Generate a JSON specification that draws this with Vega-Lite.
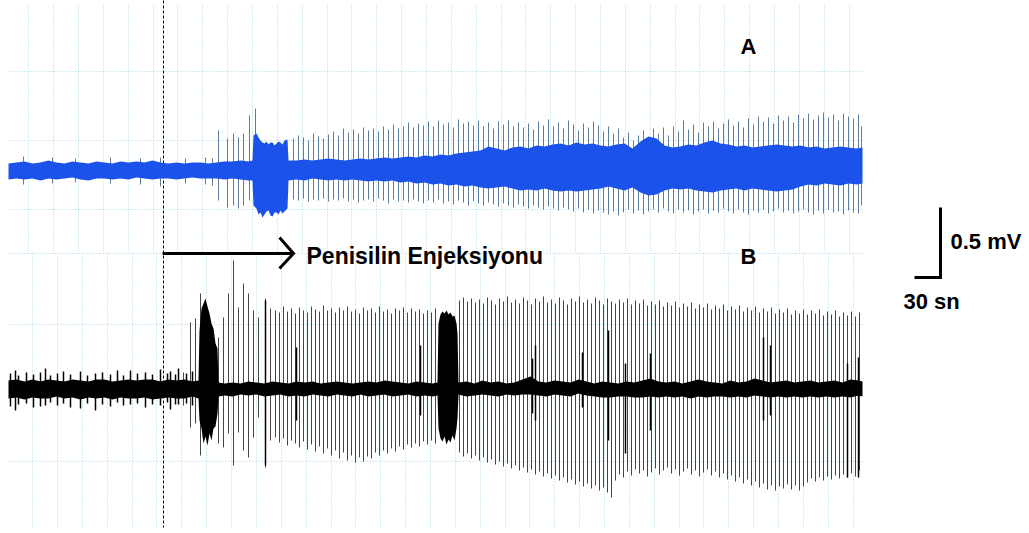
{
"$schema": "https://vega.github.io/schema/vega-lite/v6.json",
"width": 1029, "height": 533,
"autosize": {"type": "fit", "contains": "padding"},
"padding": 0,
"background": "white",
"view": {"stroke": null},
"config": {"text": {"font": "Liberation Sans"}},
"datasets": {
"grid": [
{"t":28,"t2":28,"v":274,"v2":25},{"t":53,"t2":53,"v":274,"v2":25},{"t":78,"t2":78,"v":274,"v2":25},{"t":103,"t2":103,"v":274,"v2":25},{"t":128,"t2":128,"v":274,"v2":25},{"t":153,"t2":153,"v":274,"v2":25},{"t":177,"t2":177,"v":274,"v2":25},{"t":202,"t2":202,"v":274,"v2":25},{"t":227,"t2":227,"v":274,"v2":25},{"t":252,"t2":252,"v":274,"v2":25},{"t":277,"t2":277,"v":274,"v2":25},{"t":302,"t2":302,"v":274,"v2":25},{"t":327,"t2":327,"v":274,"v2":25},{"t":351,"t2":351,"v":274,"v2":25},{"t":376,"t2":376,"v":274,"v2":25},{"t":401,"t2":401,"v":274,"v2":25},{"t":426,"t2":426,"v":274,"v2":25},{"t":451,"t2":451,"v":274,"v2":25},{"t":476,"t2":476,"v":274,"v2":25},{"t":501,"t2":501,"v":274,"v2":25},{"t":525,"t2":525,"v":274,"v2":25},{"t":550,"t2":550,"v":274,"v2":25},{"t":575,"t2":575,"v":274,"v2":25},{"t":600,"t2":600,"v":274,"v2":25},{"t":625,"t2":625,"v":274,"v2":25},{"t":650,"t2":650,"v":274,"v2":25},{"t":675,"t2":675,"v":274,"v2":25},{"t":699,"t2":699,"v":274,"v2":25},{"t":724,"t2":724,"v":274,"v2":25},{"t":749,"t2":749,"v":274,"v2":25},{"t":774,"t2":774,"v":274,"v2":25},{"t":799,"t2":799,"v":274,"v2":25},{"t":824,"t2":824,"v":274,"v2":25},{"t":849,"t2":849,"v":274,"v2":25},
{"t":32,"t2":32,"v":25,"v2":-249},{"t":57,"t2":57,"v":25,"v2":-249},{"t":82,"t2":82,"v":25,"v2":-249},{"t":107,"t2":107,"v":25,"v2":-249},{"t":132,"t2":132,"v":25,"v2":-249},{"t":156,"t2":156,"v":25,"v2":-249},{"t":181,"t2":181,"v":25,"v2":-249},{"t":206,"t2":206,"v":25,"v2":-249},{"t":231,"t2":231,"v":25,"v2":-249},{"t":256,"t2":256,"v":25,"v2":-249},{"t":281,"t2":281,"v":25,"v2":-249},{"t":306,"t2":306,"v":25,"v2":-249},{"t":331,"t2":331,"v":25,"v2":-249},{"t":355,"t2":355,"v":25,"v2":-249},{"t":380,"t2":380,"v":25,"v2":-249},{"t":405,"t2":405,"v":25,"v2":-249},{"t":430,"t2":430,"v":25,"v2":-249},{"t":455,"t2":455,"v":25,"v2":-249},{"t":480,"t2":480,"v":25,"v2":-249},{"t":505,"t2":505,"v":25,"v2":-249},{"t":529,"t2":529,"v":25,"v2":-249},{"t":554,"t2":554,"v":25,"v2":-249},{"t":579,"t2":579,"v":25,"v2":-249},{"t":604,"t2":604,"v":25,"v2":-249},{"t":629,"t2":629,"v":25,"v2":-249},{"t":654,"t2":654,"v":25,"v2":-249},{"t":679,"t2":679,"v":25,"v2":-249},{"t":703,"t2":703,"v":25,"v2":-249},{"t":728,"t2":728,"v":25,"v2":-249},{"t":753,"t2":753,"v":25,"v2":-249},{"t":778,"t2":778,"v":25,"v2":-249},{"t":803,"t2":803,"v":25,"v2":-249},{"t":828,"t2":828,"v":25,"v2":-249},{"t":853,"t2":853,"v":25,"v2":-249},
{"t":9,"t2":862,"v":207,"v2":207},{"t":9,"t2":862,"v":138,"v2":138},{"t":9,"t2":862,"v":69,"v2":69},{"t":9,"t2":862,"v":25,"v2":25},{"t":9,"t2":862,"v":-46,"v2":-46},{"t":9,"t2":862,"v":-114,"v2":-114},{"t":9,"t2":862,"v":-183,"v2":-183}
],
"aBand": [
{"t":8,"v":115,"v2":99},{"t":16,"v":116,"v2":100},{"t":24,"v":117,"v2":99},{"t":32,"v":115,"v2":100},{"t":40,"v":116,"v2":98},{"t":48,"v":118,"v2":100},{"t":56,"v":116,"v2":99},{"t":64,"v":115,"v2":100},{"t":72,"v":117,"v2":101},{"t":80,"v":116,"v2":99},{"t":88,"v":115,"v2":98},{"t":96,"v":117,"v2":100},{"t":104,"v":116,"v2":100},{"t":112,"v":115,"v2":99},{"t":120,"v":117,"v2":100},{"t":128,"v":116,"v2":99},{"t":136,"v":117,"v2":101},{"t":144,"v":116,"v2":100},{"t":152,"v":118,"v2":99},{"t":160,"v":116,"v2":100},{"t":168,"v":115,"v2":100},{"t":176,"v":116,"v2":99},{"t":184,"v":115,"v2":100},{"t":192,"v":116,"v2":101},{"t":200,"v":116,"v2":100},{"t":208,"v":115,"v2":100},{"t":216,"v":116,"v2":100},{"t":224,"v":117,"v2":99},{"t":232,"v":117,"v2":100},{"t":240,"v":118,"v2":99},{"t":248,"v":117,"v2":98},{"t":252,"v":118,"v2":98},
{"t":253,"v":143,"v2":73},{"t":256,"v":145,"v2":70},{"t":258,"v":141,"v2":64},{"t":260,"v":138,"v2":66},{"t":262,"v":136,"v2":61},{"t":264,"v":135,"v2":64},{"t":266,"v":137,"v2":67},{"t":268,"v":134,"v2":68},{"t":270,"v":136,"v2":63},{"t":272,"v":136,"v2":62},{"t":274,"v":133,"v2":66},{"t":276,"v":135,"v2":66},{"t":278,"v":137,"v2":64},{"t":280,"v":136,"v2":68},{"t":282,"v":134,"v2":65},{"t":284,"v":138,"v2":67},{"t":287,"v":139,"v2":70},
{"t":288,"v":118,"v2":98},{"t":296,"v":118,"v2":99},{"t":304,"v":119,"v2":98},{"t":312,"v":118,"v2":100},{"t":320,"v":119,"v2":99},{"t":328,"v":120,"v2":98},{"t":336,"v":119,"v2":99},{"t":344,"v":118,"v2":98},{"t":352,"v":119,"v2":99},{"t":360,"v":120,"v2":98},{"t":368,"v":119,"v2":97},{"t":376,"v":120,"v2":98},{"t":384,"v":121,"v2":97},{"t":392,"v":120,"v2":98},{"t":400,"v":121,"v2":96},{"t":408,"v":122,"v2":97},{"t":416,"v":121,"v2":95},{"t":424,"v":123,"v2":96},{"t":432,"v":122,"v2":94},{"t":440,"v":124,"v2":95},{"t":448,"v":123,"v2":93},{"t":456,"v":125,"v2":94},{"t":464,"v":126,"v2":92},{"t":472,"v":127,"v2":93},{"t":480,"v":128,"v2":91},{"t":488,"v":132,"v2":90},{"t":496,"v":130,"v2":91},{"t":504,"v":128,"v2":92},{"t":512,"v":131,"v2":90},{"t":520,"v":132,"v2":88},{"t":528,"v":130,"v2":89},{"t":536,"v":133,"v2":88},{"t":544,"v":132,"v2":90},{"t":552,"v":134,"v2":88},{"t":560,"v":135,"v2":87},{"t":568,"v":133,"v2":88},{"t":576,"v":136,"v2":87},{"t":584,"v":134,"v2":88},{"t":592,"v":135,"v2":89},{"t":600,"v":133,"v2":90},{"t":608,"v":132,"v2":92},{"t":616,"v":134,"v2":90},{"t":624,"v":135,"v2":88},{"t":632,"v":130,"v2":91},{"t":640,"v":137,"v2":86},{"t":648,"v":142,"v2":83},{"t":656,"v":140,"v2":84},{"t":664,"v":133,"v2":88},{"t":672,"v":131,"v2":90},{"t":680,"v":132,"v2":89},{"t":688,"v":134,"v2":90},{"t":696,"v":133,"v2":88},{"t":704,"v":136,"v2":87},{"t":712,"v":138,"v2":86},{"t":720,"v":135,"v2":88},{"t":728,"v":134,"v2":89},{"t":736,"v":132,"v2":90},{"t":744,"v":133,"v2":88},{"t":752,"v":131,"v2":90},{"t":760,"v":132,"v2":89},{"t":768,"v":133,"v2":88},{"t":776,"v":134,"v2":87},{"t":784,"v":133,"v2":88},{"t":792,"v":132,"v2":89},{"t":800,"v":133,"v2":92},{"t":808,"v":131,"v2":94},{"t":816,"v":132,"v2":93},{"t":824,"v":130,"v2":95},{"t":832,"v":131,"v2":94},{"t":840,"v":132,"v2":93},{"t":848,"v":131,"v2":95},{"t":856,"v":130,"v2":94},{"t":862,"v":131,"v2":95}
],
"aSpk": [
{"t":23,"v":122,"v2":94},{"t":52,"v":121,"v2":95},{"t":75,"v":120,"v2":96},{"t":110,"v":121,"v2":95},{"t":140,"v":120,"v2":94},{"t":160,"v":121,"v2":92},{"t":185,"v":120,"v2":95},{"t":205,"v":121,"v2":94},{"t":212,"v":120,"v2":93},
{"t":218,"v":148,"v2":78},{"t":227,"v":140,"v2":71},{"t":233,"v":145,"v2":73},{"t":238,"v":141,"v2":70},{"t":243,"v":145,"v2":73},{"t":249,"v":163,"v2":78},{"t":255,"v":170,"v2":73},
{"t":293,"v":140,"v2":79},{"t":298,"v":143,"v2":78},{"t":303,"v":141,"v2":80},{"t":308,"v":138,"v2":77},{"t":313,"v":145,"v2":79},{"t":318,"v":142,"v2":78},{"t":323,"v":140,"v2":80},{"t":328,"v":144,"v2":77},{"t":333,"v":147,"v2":79},{"t":338,"v":143,"v2":78},{"t":343,"v":150,"v2":80},{"t":348,"v":146,"v2":77},{"t":353,"v":149,"v2":79},{"t":358,"v":145,"v2":76},{"t":363,"v":151,"v2":78},{"t":368,"v":148,"v2":79},{"t":373,"v":150,"v2":77},{"t":378,"v":147,"v2":80},{"t":383,"v":152,"v2":78},{"t":388,"v":149,"v2":75},{"t":393,"v":154,"v2":79},{"t":398,"v":150,"v2":77},{"t":403,"v":152,"v2":78},{"t":408,"v":156,"v2":76},{"t":413,"v":151,"v2":79},{"t":418,"v":155,"v2":77},{"t":423,"v":153,"v2":75},{"t":428,"v":157,"v2":78},{"t":433,"v":152,"v2":76},{"t":438,"v":158,"v2":79},{"t":443,"v":154,"v2":75},{"t":448,"v":156,"v2":77},{"t":453,"v":151,"v2":74},{"t":458,"v":159,"v2":78},{"t":463,"v":155,"v2":76},{"t":468,"v":157,"v2":73},{"t":473,"v":153,"v2":77},{"t":478,"v":158,"v2":75},{"t":483,"v":152,"v2":73},{"t":488,"v":156,"v2":76},{"t":493,"v":150,"v2":74},{"t":498,"v":157,"v2":72},{"t":503,"v":154,"v2":75},{"t":508,"v":158,"v2":73},{"t":513,"v":152,"v2":71},{"t":518,"v":156,"v2":74},{"t":523,"v":151,"v2":72},{"t":528,"v":155,"v2":70},{"t":533,"v":149,"v2":73},{"t":538,"v":157,"v2":71},{"t":543,"v":153,"v2":69},{"t":548,"v":159,"v2":72},{"t":553,"v":152,"v2":70},{"t":558,"v":156,"v2":68},{"t":563,"v":150,"v2":71},{"t":568,"v":158,"v2":69},{"t":573,"v":154,"v2":67},{"t":578,"v":148,"v2":70},{"t":583,"v":155,"v2":66},{"t":588,"v":151,"v2":69},{"t":593,"v":157,"v2":65},{"t":598,"v":153,"v2":68},{"t":603,"v":147,"v2":66},{"t":608,"v":152,"v2":64},{"t":613,"v":145,"v2":67},{"t":618,"v":150,"v2":63},
{"t":623,"v":141,"v2":66},{"t":628,"v":146,"v2":69},{"t":633,"v":138,"v2":65},{"t":638,"v":143,"v2":68},{"t":643,"v":148,"v2":64},{"t":648,"v":140,"v2":67},{"t":653,"v":150,"v2":69},{"t":658,"v":145,"v2":66},{"t":663,"v":151,"v2":70},{"t":668,"v":143,"v2":67},{"t":673,"v":152,"v2":65},{"t":678,"v":147,"v2":69},{"t":683,"v":158,"v2":66},{"t":688,"v":149,"v2":68},{"t":693,"v":154,"v2":64},{"t":698,"v":146,"v2":67},{"t":703,"v":156,"v2":69},{"t":708,"v":152,"v2":65},{"t":713,"v":157,"v2":68},{"t":718,"v":150,"v2":66},{"t":723,"v":155,"v2":70},{"t":728,"v":159,"v2":67},{"t":733,"v":153,"v2":65},{"t":738,"v":157,"v2":69},{"t":743,"v":151,"v2":66},{"t":748,"v":160,"v2":64},{"t":753,"v":154,"v2":68},{"t":758,"v":162,"v2":66},{"t":763,"v":157,"v2":69},{"t":768,"v":161,"v2":65},{"t":773,"v":155,"v2":67},{"t":778,"v":163,"v2":70},{"t":783,"v":158,"v2":66},{"t":788,"v":162,"v2":68},{"t":793,"v":156,"v2":65},{"t":798,"v":164,"v2":67},{"t":803,"v":160,"v2":69},{"t":808,"v":165,"v2":66},{"t":813,"v":159,"v2":64},{"t":818,"v":163,"v2":68},{"t":823,"v":166,"v2":65},{"t":828,"v":161,"v2":69},{"t":833,"v":164,"v2":66},{"t":838,"v":158,"v2":67},{"t":843,"v":165,"v2":64},{"t":848,"v":162,"v2":68},{"t":853,"v":160,"v2":66},{"t":858,"v":164,"v2":65},{"t":861,"v":152,"v2":73}
],
"bBand": [
{"t":8,"v":-102,"v2":-120},{"t":16,"v":-101,"v2":-119},{"t":24,"v":-103,"v2":-121},{"t":32,"v":-101,"v2":-119},{"t":40,"v":-103,"v2":-120},{"t":48,"v":-101,"v2":-120},{"t":56,"v":-102,"v2":-118},{"t":64,"v":-103,"v2":-120},{"t":72,"v":-101,"v2":-119},{"t":80,"v":-102,"v2":-121},{"t":88,"v":-103,"v2":-119},{"t":96,"v":-101,"v2":-120},{"t":104,"v":-101,"v2":-119},{"t":112,"v":-103,"v2":-121},{"t":120,"v":-102,"v2":-119},{"t":128,"v":-101,"v2":-120},{"t":136,"v":-102,"v2":-120},{"t":144,"v":-101,"v2":-119},{"t":152,"v":-101,"v2":-121},{"t":160,"v":-103,"v2":-120},{"t":168,"v":-101,"v2":-119},{"t":176,"v":-102,"v2":-120},{"t":184,"v":-101,"v2":-120},{"t":192,"v":-103,"v2":-118},{"t":198,"v":-102,"v2":-120},
{"t":199,"v":-52,"v2":-142},{"t":201,"v":-30,"v2":-150},{"t":203,"v":-25,"v2":-165},{"t":205,"v":-20,"v2":-158},{"t":207,"v":-28,"v2":-167},{"t":209,"v":-35,"v2":-155},{"t":211,"v":-45,"v2":-162},{"t":213,"v":-50,"v2":-150},{"t":215,"v":-65,"v2":-148},{"t":217,"v":-70,"v2":-135},
{"t":218,"v":-104,"v2":-118},{"t":224,"v":-105,"v2":-117},{"t":232,"v":-104,"v2":-118},{"t":240,"v":-105,"v2":-116},{"t":248,"v":-103,"v2":-117},{"t":256,"v":-104,"v2":-116},{"t":264,"v":-105,"v2":-118},{"t":272,"v":-103,"v2":-117},{"t":280,"v":-104,"v2":-116},{"t":288,"v":-105,"v2":-118},{"t":296,"v":-103,"v2":-117},{"t":304,"v":-104,"v2":-118},{"t":312,"v":-103,"v2":-116},{"t":320,"v":-105,"v2":-117},{"t":328,"v":-104,"v2":-118},{"t":336,"v":-103,"v2":-116},{"t":344,"v":-104,"v2":-117},{"t":352,"v":-105,"v2":-118},{"t":360,"v":-104,"v2":-116},{"t":368,"v":-103,"v2":-118},{"t":376,"v":-104,"v2":-117},{"t":384,"v":-102,"v2":-116},{"t":392,"v":-103,"v2":-118},{"t":400,"v":-104,"v2":-117},{"t":408,"v":-105,"v2":-116},{"t":416,"v":-103,"v2":-118},{"t":424,"v":-104,"v2":-117},{"t":432,"v":-105,"v2":-118},{"t":437,"v":-104,"v2":-117},
{"t":438,"v":-45,"v2":-150},{"t":440,"v":-36,"v2":-160},{"t":442,"v":-33,"v2":-163},{"t":444,"v":-35,"v2":-158},{"t":446,"v":-32,"v2":-166},{"t":448,"v":-36,"v2":-161},{"t":450,"v":-34,"v2":-164},{"t":452,"v":-38,"v2":-157},{"t":454,"v":-37,"v2":-162},{"t":456,"v":-45,"v2":-150},{"t":457,"v":-55,"v2":-140},
{"t":458,"v":-104,"v2":-116},{"t":466,"v":-103,"v2":-118},{"t":474,"v":-105,"v2":-117},{"t":482,"v":-102,"v2":-116},{"t":490,"v":-104,"v2":-117},{"t":498,"v":-103,"v2":-118},{"t":506,"v":-105,"v2":-116},{"t":514,"v":-104,"v2":-117},{"t":522,"v":-101,"v2":-116},{"t":530,"v":-98,"v2":-116},{"t":538,"v":-103,"v2":-117},{"t":546,"v":-104,"v2":-118},{"t":554,"v":-102,"v2":-116},{"t":562,"v":-103,"v2":-117},{"t":570,"v":-104,"v2":-118},{"t":578,"v":-101,"v2":-115},{"t":586,"v":-103,"v2":-117},{"t":594,"v":-105,"v2":-118},{"t":602,"v":-103,"v2":-119},{"t":610,"v":-104,"v2":-119},{"t":618,"v":-105,"v2":-118},{"t":626,"v":-103,"v2":-118},{"t":634,"v":-104,"v2":-119},{"t":642,"v":-102,"v2":-119},{"t":650,"v":-100,"v2":-118},{"t":658,"v":-103,"v2":-119},{"t":666,"v":-104,"v2":-118},{"t":674,"v":-103,"v2":-119},{"t":682,"v":-105,"v2":-118},{"t":690,"v":-103,"v2":-120},{"t":698,"v":-101,"v2":-118},{"t":706,"v":-103,"v2":-119},{"t":714,"v":-104,"v2":-118},{"t":722,"v":-105,"v2":-118},{"t":730,"v":-102,"v2":-119},{"t":738,"v":-104,"v2":-118},{"t":746,"v":-103,"v2":-119},{"t":754,"v":-100,"v2":-117},{"t":762,"v":-102,"v2":-118},{"t":770,"v":-104,"v2":-119},{"t":778,"v":-103,"v2":-118},{"t":786,"v":-102,"v2":-119},{"t":794,"v":-104,"v2":-118},{"t":802,"v":-103,"v2":-119},{"t":810,"v":-102,"v2":-118},{"t":818,"v":-104,"v2":-119},{"t":826,"v":-103,"v2":-118},{"t":834,"v":-102,"v2":-119},{"t":842,"v":-104,"v2":-118},{"t":850,"v":-101,"v2":-119},{"t":858,"v":-102,"v2":-117},{"t":862,"v":-103,"v2":-118}
],
"bSpk": [
{"t":183,"v":-94,"v2":-127},{"t":190,"v":-44,"v2":-149},{"t":195,"v":-40,"v2":-145},{"t":200,"v":-15,"v2":-177},{"t":218,"v":-59,"v2":-165},{"t":223,"v":-39,"v2":-169},{"t":228,"v":-15,"v2":-155},{"t":233,"v":18,"v2":-187},{"t":238,"v":-29,"v2":-154},{"t":243,"v":-5,"v2":-172},{"t":248,"v":-15,"v2":-179},{"t":253,"v":-32,"v2":-159},{"t":258,"v":-39,"v2":-139},{"t":265,"v":-20,"v2":-189},{"t":270,"v":-30,"v2":-162},{"t":275,"v":-32,"v2":-159},
{"t":279,"v":-34,"v2":-164},{"t":283,"v":-28,"v2":-160},{"t":287,"v":-33,"v2":-167},{"t":291,"v":-30,"v2":-162},{"t":295,"v":-35,"v2":-165},{"t":299,"v":-29,"v2":-169},{"t":303,"v":-32,"v2":-163},{"t":307,"v":-34,"v2":-171},{"t":311,"v":-28,"v2":-166},{"t":315,"v":-31,"v2":-173},{"t":319,"v":-33,"v2":-168},{"t":323,"v":-27,"v2":-175},{"t":327,"v":-32,"v2":-170},{"t":331,"v":-30,"v2":-177},{"t":335,"v":-34,"v2":-172},{"t":339,"v":-29,"v2":-180},{"t":343,"v":-32,"v2":-174},{"t":347,"v":-28,"v2":-182},{"t":351,"v":-33,"v2":-177},{"t":355,"v":-31,"v2":-184},{"t":359,"v":-35,"v2":-179},{"t":363,"v":-29,"v2":-183},{"t":367,"v":-32,"v2":-178},{"t":371,"v":-30,"v2":-180},{"t":375,"v":-34,"v2":-174},{"t":379,"v":-28,"v2":-177},{"t":383,"v":-33,"v2":-172},{"t":387,"v":-31,"v2":-175},{"t":391,"v":-35,"v2":-170},{"t":395,"v":-30,"v2":-173},{"t":399,"v":-32,"v2":-168},{"t":403,"v":-29,"v2":-171},{"t":407,"v":-34,"v2":-166},{"t":411,"v":-30,"v2":-169},{"t":415,"v":-33,"v2":-165},{"t":419,"v":-31,"v2":-168},{"t":423,"v":-35,"v2":-163},{"t":427,"v":-32,"v2":-166},{"t":431,"v":-34,"v2":-162},{"t":435,"v":-30,"v2":-165},
{"t":459,"v":-22,"v2":-174},{"t":463,"v":-19,"v2":-178},{"t":467,"v":-23,"v2":-175},{"t":471,"v":-20,"v2":-180},{"t":475,"v":-24,"v2":-177},{"t":479,"v":-21,"v2":-182},{"t":483,"v":-25,"v2":-179},{"t":487,"v":-19,"v2":-184},{"t":491,"v":-22,"v2":-181},{"t":495,"v":-26,"v2":-186},{"t":499,"v":-20,"v2":-183},{"t":503,"v":-23,"v2":-188},{"t":507,"v":-18,"v2":-185},{"t":511,"v":-24,"v2":-190},{"t":515,"v":-21,"v2":-187},{"t":519,"v":-25,"v2":-192},{"t":523,"v":-19,"v2":-189},{"t":527,"v":-22,"v2":-194},{"t":531,"v":-26,"v2":-191},{"t":535,"v":-20,"v2":-196},{"t":539,"v":-23,"v2":-193},{"t":543,"v":-18,"v2":-198},{"t":547,"v":-24,"v2":-195},{"t":551,"v":-21,"v2":-200},{"t":555,"v":-25,"v2":-197},{"t":559,"v":-19,"v2":-202},{"t":563,"v":-22,"v2":-199},{"t":567,"v":-26,"v2":-204},{"t":571,"v":-20,"v2":-201},{"t":575,"v":-23,"v2":-206},{"t":579,"v":-18,"v2":-203},{"t":583,"v":-24,"v2":-208},{"t":587,"v":-21,"v2":-205},{"t":591,"v":-25,"v2":-210},{"t":595,"v":-19,"v2":-207},{"t":599,"v":-22,"v2":-212},{"t":603,"v":-26,"v2":-209},{"t":607,"v":-20,"v2":-214},{"t":611,"v":-23,"v2":-219},{"t":615,"v":-25,"v2":-202},{"t":619,"v":-21,"v2":-196},{"t":623,"v":-24,"v2":-199},{"t":627,"v":-20,"v2":-193},{"t":631,"v":-26,"v2":-197},{"t":635,"v":-22,"v2":-191},{"t":639,"v":-25,"v2":-195},{"t":643,"v":-21,"v2":-192},{"t":647,"v":-27,"v2":-198},{"t":651,"v":-23,"v2":-194},{"t":655,"v":-26,"v2":-190},{"t":659,"v":-22,"v2":-196},{"t":663,"v":-28,"v2":-192},{"t":667,"v":-24,"v2":-189},{"t":671,"v":-27,"v2":-195},{"t":675,"v":-23,"v2":-191},{"t":679,"v":-29,"v2":-197},{"t":683,"v":-25,"v2":-193},{"t":687,"v":-28,"v2":-190},{"t":691,"v":-24,"v2":-196},{"t":695,"v":-30,"v2":-192},{"t":699,"v":-26,"v2":-198},{"t":703,"v":-29,"v2":-194},{"t":707,"v":-25,"v2":-191},{"t":711,"v":-31,"v2":-197},{"t":715,"v":-27,"v2":-193},{"t":719,"v":-30,"v2":-199},{"t":723,"v":-26,"v2":-195},{"t":727,"v":-32,"v2":-201},{"t":731,"v":-28,"v2":-197},{"t":735,"v":-31,"v2":-203},{"t":739,"v":-27,"v2":-199},{"t":743,"v":-33,"v2":-205},{"t":747,"v":-29,"v2":-201},{"t":751,"v":-32,"v2":-207},{"t":755,"v":-28,"v2":-203},{"t":759,"v":-34,"v2":-209},{"t":763,"v":-30,"v2":-205},{"t":767,"v":-33,"v2":-211},{"t":771,"v":-29,"v2":-207},{"t":775,"v":-35,"v2":-212},{"t":779,"v":-31,"v2":-208},{"t":783,"v":-34,"v2":-210},{"t":787,"v":-30,"v2":-206},{"t":791,"v":-36,"v2":-211},{"t":795,"v":-32,"v2":-207},{"t":799,"v":-35,"v2":-212},{"t":803,"v":-31,"v2":-208},{"t":807,"v":-36,"v2":-204},{"t":811,"v":-32,"v2":-200},{"t":815,"v":-35,"v2":-203},{"t":819,"v":-31,"v2":-199},{"t":823,"v":-37,"v2":-202},{"t":827,"v":-33,"v2":-198},{"t":831,"v":-36,"v2":-201},{"t":835,"v":-32,"v2":-197},{"t":839,"v":-38,"v2":-200},{"t":843,"v":-34,"v2":-196},{"t":847,"v":-37,"v2":-199},{"t":851,"v":-33,"v2":-195},{"t":855,"v":-38,"v2":-198},{"t":859,"v":-34,"v2":-192}
],
"bDark": [
{"t":10,"v":-95,"v2":-128},{"t":15,"v":-92,"v2":-132},{"t":18,"v":-97,"v2":-126},{"t":26,"v":-94,"v2":-125},{"t":33,"v":-96,"v2":-129},{"t":40,"v":-94,"v2":-128},{"t":45,"v":-90,"v2":-127},{"t":50,"v":-97,"v2":-124},{"t":57,"v":-95,"v2":-127},{"t":63,"v":-93,"v2":-125},{"t":70,"v":-96,"v2":-129},{"t":80,"v":-93,"v2":-130},{"t":87,"v":-97,"v2":-125},{"t":95,"v":-95,"v2":-132},{"t":102,"v":-94,"v2":-126},{"t":110,"v":-96,"v2":-128},{"t":117,"v":-92,"v2":-124},{"t":123,"v":-97,"v2":-127},{"t":130,"v":-92,"v2":-126},{"t":137,"v":-95,"v2":-125},{"t":145,"v":-94,"v2":-129},{"t":152,"v":-96,"v2":-126},{"t":160,"v":-91,"v2":-127},{"t":167,"v":-95,"v2":-124},{"t":170,"v":-93,"v2":-131},{"t":175,"v":-96,"v2":-126},{"t":178,"v":-90,"v2":-126},{"t":186,"v":-95,"v2":-125},{"t":192,"v":-93,"v2":-127},
{"t":265,"v":-22,"v2":-187},{"t":296,"v":-69,"v2":-142},{"t":420,"v":-67,"v2":-137},{"t":532,"v":-80,"v2":-135},{"t":535,"v":-67,"v2":-142},{"t":582,"v":-74,"v2":-129},{"t":608,"v":-52,"v2":-162},{"t":625,"v":-85,"v2":-175},{"t":650,"v":-75,"v2":-152},{"t":763,"v":-59,"v2":-142},{"t":770,"v":-67,"v2":-137},{"t":847,"v":-85,"v2":-199},{"t":858,"v":-79,"v2":-199}
],
"marks": [
{"t":163,"t2":163,"v":278,"v2":-249,"k":"dash"},
{"t":162,"t2":292,"v":25,"v2":25,"k":"arrow"}
],
"paths": [
{"g":"bar","o":1,"t":940,"v":71},{"g":"bar","o":2,"t":940,"v":1},{"g":"bar","o":3,"t":914,"v":1},
{"g":"head","o":1,"t":279,"v":41},{"g":"head","o":2,"t":293,"v":25},{"g":"head","o":3,"t":279,"v":10}
],
"labels": [
{"t":740,"v":225,"label":"A"},
{"t":740,"v":15,"label":"B"},
{"t":950,"v":30,"label":"0.5 mV"},
{"t":903,"v":-30,"label":"30 sn"}
],
"title": [
{"t":306,"v":15,"label":"Penisilin Enjeksiyonu"}
]
},
"encoding": {
"x": {"field": "t", "type": "quantitative", "scale": {"domain": [-0.5, 1028.5], "nice": false, "zero": false}, "axis": null},
"y": {"field": "v", "type": "quantitative", "scale": {"domain": [-254.5, 278.5], "nice": false, "zero": false}, "axis": null}
},
"layer": [
{"data": {"name": "grid"}, "mark": {"type": "rule", "color": "#a6d6e6", "strokeWidth": 1, "strokeDash": [1, 2]},
 "encoding": {"x2": {"field": "t2"}, "y2": {"field": "v2"}}},
{"data": {"name": "marks"}, "transform": [{"filter": "datum.k == 'dash'"}], "mark": {"type": "rule", "color": "#000000", "strokeWidth": 1, "strokeDash": [3, 2]},
 "encoding": {"x2": {"field": "t2"}, "y2": {"field": "v2"}}},
{"data": {"name": "aSpk"}, "mark": {"type": "rule", "color": "#5d7c9c", "strokeWidth": 1},
 "encoding": {"y2": {"field": "v2"}}},
{"data": {"name": "aBand"}, "mark": {"type": "area", "color": "#1a52ea", "opacity": 1},
 "encoding": {"y2": {"field": "v2"}}},
{"data": {"name": "bSpk"}, "mark": {"type": "rule", "color": "#444444", "strokeWidth": 1},
 "encoding": {"y2": {"field": "v2"}}},
{"data": {"name": "bBand"}, "mark": {"type": "area", "color": "#000000", "opacity": 1},
 "encoding": {"y2": {"field": "v2"}}},
{"data": {"name": "bDark"}, "mark": {"type": "rule", "color": "#000000", "strokeWidth": 1.5},
 "encoding": {"y2": {"field": "v2"}}},
{"data": {"name": "marks"}, "transform": [{"filter": "datum.k == 'arrow'"}], "mark": {"type": "rule", "color": "#000000", "strokeWidth": 3},
 "encoding": {"x2": {"field": "t2"}, "y2": {"field": "v2"}}},
{"data": {"name": "paths"}, "mark": {"type": "line", "color": "#000000", "strokeWidth": 3, "strokeJoin": "miter", "strokeCap": "butt"},
 "encoding": {"detail": {"field": "g"}, "order": {"field": "o", "type": "quantitative"}}},
{"data": {"name": "labels"}, "mark": {"type": "text", "fontSize": 22, "fontWeight": "bold", "align": "left", "baseline": "alphabetic", "color": "#000000"},
 "encoding": {"text": {"field": "label"}}},
{"data": {"name": "title"}, "mark": {"type": "text", "fontSize": 23, "fontWeight": "bold", "align": "left", "baseline": "alphabetic", "color": "#000000", "letterSpacing": 1.3},
 "encoding": {"text": {"field": "label"}}}
]
}
